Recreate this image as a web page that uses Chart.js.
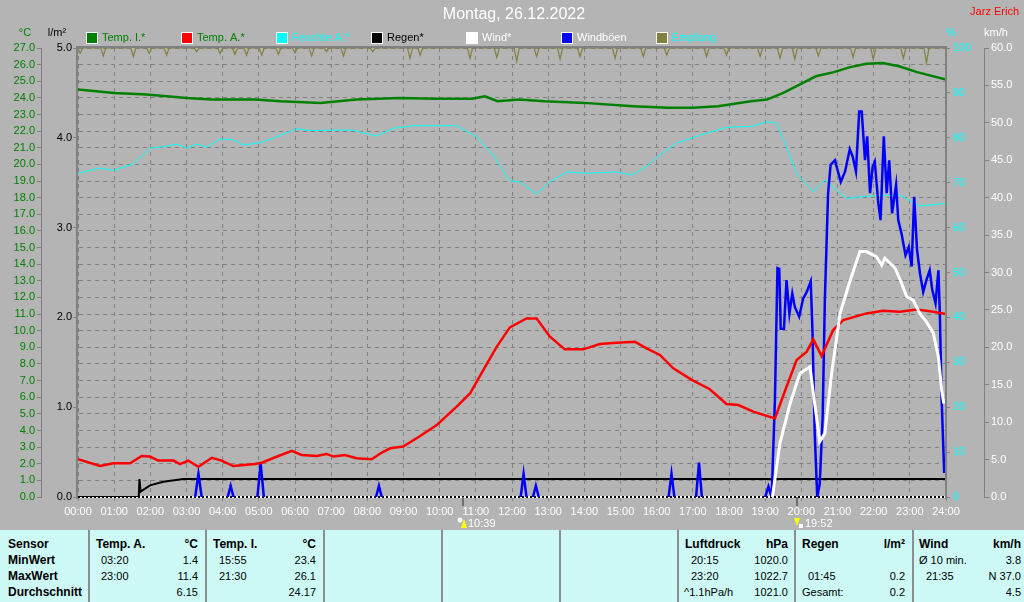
<!DOCTYPE html>
<html>
<head>
<meta charset="utf-8">
<script src="https://cdn.jsdelivr.net/npm/chart.js@4.4.0/dist/chart.umd.min.js"></script>
<style>
  body { margin: 0; background: #b4b4b4; width: 1024px; height: 602px; overflow: hidden; font-family: "Liberation Sans", Arial, sans-serif; }
  #wetter { position: absolute; left: 0; top: 0; }
  #stats { position: absolute; left: 0; top: 530px; width: 1024px; height: 72px; background: #cdf9f6; font-size: 11px; color: #000; }
  .col { position: absolute; top: 0; height: 72px; box-sizing: border-box; border-left: 2px solid #8e8e8e; padding-top: 6px; }
  .row { position: relative; height: 16px; line-height: 16px; white-space: nowrap; }
  .row span { position: absolute; }
  .b { font-weight: bold; font-size: 12px; }
</style>
</head>
<body>
<canvas id="wetter" width="1024" height="530"></canvas>
<div id="stats">
  <div class="col" style="left:0;width:88px;border-left:none">
    <div class="row"><span class="b" style="left:8px">Sensor</span></div>
    <div class="row"><span class="b" style="left:8px">MinWert</span></div>
    <div class="row"><span class="b" style="left:8px">MaxWert</span></div>
    <div class="row"><span class="b" style="left:8px">Durchschnitt</span></div>
  </div>
  <div class="col" style="left:88px;width:117px">
    <div class="row"><span class="b" style="left:6px">Temp. A.</span><span class="b" style="right:7px">°C</span></div>
    <div class="row"><span style="left:11px">03:20</span><span style="right:7px">1.4</span></div>
    <div class="row"><span style="left:11px">23:00</span><span style="right:7px">11.4</span></div>
    <div class="row"><span style="right:7px">6.15</span></div>
  </div>
  <div class="col" style="left:205px;width:118px">
    <div class="row"><span class="b" style="left:6px">Temp. I.</span><span class="b" style="right:7px">°C</span></div>
    <div class="row"><span style="left:12px">15:55</span><span style="right:7px">23.4</span></div>
    <div class="row"><span style="left:12px">21:30</span><span style="right:7px">26.1</span></div>
    <div class="row"><span style="right:7px">24.17</span></div>
  </div>
  <div class="col" style="left:323px;width:118px"></div>
  <div class="col" style="left:441px;width:118px"></div>
  <div class="col" style="left:559px;width:118px"></div>
  <div class="col" style="left:677px;width:117px">
    <div class="row"><span class="b" style="left:6px">Luftdruck</span><span class="b" style="right:6px">hPa</span></div>
    <div class="row"><span style="left:12px">20:15</span><span style="right:6px">1020.0</span></div>
    <div class="row"><span style="left:12px">23:20</span><span style="right:6px">1022.7</span></div>
    <div class="row"><span style="left:5px">^1.1hPa/h</span><span style="right:6px">1021.0</span></div>
  </div>
  <div class="col" style="left:794px;width:118px">
    <div class="row"><span class="b" style="left:6px">Regen</span><span class="b" style="right:7px">l/m²</span></div>
    <div class="row"></div>
    <div class="row"><span style="left:12px">01:45</span><span style="right:7px">0.2</span></div>
    <div class="row"><span style="left:6px">Gesamt:</span><span style="right:7px">0.2</span></div>
  </div>
  <div class="col" style="left:912px;width:112px">
    <div class="row"><span class="b" style="left:5px">Wind</span><span class="b" style="right:3px">km/h</span></div>
    <div class="row"><span style="left:5px">Ø 10 min.</span><span style="right:3px">3.8</span></div>
    <div class="row"><span style="left:12px">21:35</span><span style="right:3px">N 37.0</span></div>
    <div class="row"><span style="right:3px">4.5</span></div>
  </div>
</div>
<script>
// Werte (x = Stunde des Tages)
const TEMP_I_H = [0, 1, 1.9, 3, 3.7, 4.9, 5.6, 6.7, 7.7, 8.9, 9.9, 10.9, 11.25, 11.6, 12.2, 12.9, 14, 15.35, 16.3, 17, 17.7, 18.6, 19.05, 19.5, 19.95, 20.4, 20.9, 21.35, 21.8, 22.25, 22.7, 23.2, 24];
const TEMP_I = [24.5, 24.3, 24.2, 24.0, 23.9, 23.9, 23.8, 23.7, 23.9, 24.0, 23.95, 23.95, 24.1, 23.8, 23.9, 23.8, 23.7, 23.5, 23.4, 23.4, 23.5, 23.8, 23.9, 24.3, 24.8, 25.3, 25.55, 25.85, 26.05, 26.1, 25.9, 25.55, 25.1];

const TEMP_A_H = [0, 0.61, 0.98, 1.44, 1.76, 1.99, 2.22, 2.64, 2.82, 3.05, 3.33, 3.7, 3.97, 4.29, 4.89, 5.08, 5.49, 5.91, 6.18, 6.6, 6.87, 7.07, 7.38, 7.7, 8.12, 8.39, 8.63, 8.99, 9.46, 9.92, 10.47, 10.84, 11.21, 11.58, 11.94, 12.4, 12.68, 13.05, 13.46, 13.97, 14.43, 14.89, 15.4, 15.72, 16.09, 16.46, 16.97, 17.47, 17.93, 18.26, 18.67, 19.27, 19.59, 19.87, 20.15, 20.33, 20.56, 20.88, 21.16, 21.8, 22.26, 22.72, 23.19, 23.65, 24];
const TEMP_A = [2.27, 1.86, 2.03, 2.03, 2.47, 2.43, 2.19, 2.19, 1.98, 2.19, 1.82, 2.36, 2.19, 1.86, 1.98, 2.06, 2.42, 2.78, 2.53, 2.47, 2.59, 2.43, 2.53, 2.33, 2.27, 2.66, 2.93, 3.03, 3.67, 4.33, 5.43, 6.23, 7.64, 9.04, 10.2, 10.74, 10.74, 9.64, 8.88, 8.88, 9.2, 9.28, 9.34, 8.94, 8.54, 7.74, 7.04, 6.48, 5.59, 5.53, 5.13, 4.73, 6.63, 8.24, 8.74, 9.48, 8.48, 10.04, 10.64, 11.04, 11.2, 11.14, 11.28, 11.14, 11.0];

const HUM_H = [0, 0.61, 0.98, 1.53, 1.99, 2.36, 2.73, 3.0, 3.28, 3.56, 3.93, 4.29, 4.57, 5.03, 5.49, 6.05, 6.42, 7.06, 7.62, 7.89, 8.26, 8.72, 9.27, 10.47, 11.02, 11.48, 11.94, 12.22, 12.68, 13.05, 13.51, 14.06, 14.89, 15.31, 15.72, 16.09, 16.55, 17.2, 17.93, 18.67, 19.04, 19.32, 19.59, 19.87, 20.33, 20.65, 21.25, 21.8, 22.72, 23.27, 24];
const HUM = [72.1, 73.3, 72.7, 74.2, 77.7, 78.0, 78.6, 77.7, 78.6, 77.9, 79.7, 79.6, 78.4, 78.9, 80.2, 82.0, 81.6, 81.7, 81.7, 81.1, 80.4, 82.1, 82.7, 82.7, 80.2, 76.2, 70.4, 70.2, 67.5, 70.2, 72.4, 72.1, 72.4, 71.7, 73.6, 76.2, 78.8, 80.6, 82.3, 82.6, 83.6, 83.2, 78.0, 72.1, 68.0, 70.6, 66.5, 67.0, 67.3, 64.8, 65.4];

const RAIN_H = [0, 1.68, 1.7, 1.73, 1.99, 2.36, 2.91, 24];
const RAIN = [0, 0, 0.2, 0.06, 0.13, 0.17, 0.2, 0.2];

const WIND_H = [19.2, 19.41, 19.69, 19.96, 20.24, 20.33, 20.51, 20.65, 20.84, 21.07, 21.34, 21.62, 21.8, 22.08, 22.22, 22.31, 22.59, 22.77, 22.91, 23.09, 23.28, 23.46, 23.65, 23.79, 23.88, 23.94];
const WIND = [0, 7.2, 12.5, 16.5, 17.4, 13.9, 7.4, 8.5, 16.6, 24.5, 28.8, 32.8, 32.8, 32.1, 31.0, 31.9, 30.6, 28.6, 26.8, 26.3, 24.5, 23.4, 21.9, 18.7, 14.3, 12.5];

// null = Lücke zwischen einzelnen Böen
const GUST_H = [3.24, 3.33, 3.42, 3.5, 4.14, 4.22, 4.3, 4.4, 4.96, 5.05, 5.14, 5.2, 8.24, 8.32, 8.4, 8.5, 12.24, 12.32, 12.4, 12.5, 12.58, 12.66, 12.74, 12.8, 16.33, 16.41, 16.49, 16.6, 17.09, 17.17, 17.25, 17.4,
  19.0, 19.09, 19.18, 19.27, 19.34, 19.39, 19.43, 19.52, 19.59, 19.67, 19.75, 19.82, 19.94, 20.05, 20.15, 20.26, 20.31, 20.37, 20.44, 20.51, 20.59, 20.65, 20.74, 20.81, 20.93, 21.09, 21.21, 21.34, 21.42, 21.51, 21.6, 21.67, 21.76, 21.82, 21.9, 21.97, 22.03, 22.13, 22.19, 22.28, 22.36, 22.43, 22.51, 22.62, 22.68, 22.77, 22.88, 22.97, 23.05, 23.12, 23.2, 23.28, 23.37, 23.46, 23.55, 23.62, 23.71, 23.79, 23.83, 23.88, 23.95];
const GUST = [0, 3.1, 0, null, 0, 1.5, 0, null, 0, 4.5, 0, null, 0, 1.5, 0, null, 0, 3.1, 0, null, 0, 1.5, 0, null, 0, 3.1, 0, null, 0, 4.6, 0, null,
  0, 1.4, 0, 13.0, 30.6, 30.5, 22.5, 22.5, 29.0, 24.5, 27.2, 25.4, 24.1, 26.5, 27.4, 28.8, 21.9, 8.5, 0, 1.8, 10.7, 26.3, 40.6, 44.4, 45.0, 42.1, 43.5, 46.5, 45.5, 43.5, 51.5, 51.5, 45.0, 48.2, 40.6, 44.1, 44.8, 39.2, 37.0, 48.2, 40.6, 45.0, 37.9, 41.7, 37.0, 35.2, 32.3, 33.4, 30.8, 40.1, 33.0, 29.9, 27.4, 29.0, 30.3, 27.7, 25.9, 30.3, 24.5, 13.0, 3.2];

// Empfang: 100 %, nur kurze Einbrüche
const EMP_DIP_H = [0.06, 0.7, 1.53, 1.97, 2.45, 3.28, 3.93, 4.34, 4.66, 5.08, 5.54, 6.0, 6.46, 6.87, 7.34, 8.15, 9.18, 9.46, 10.84, 11.58, 12.13, 12.68, 13.33, 13.88, 14.85, 15.63, 16.28, 17.38, 17.93, 18.86, 19.41, 19.82, 20.47, 21.43, 21.99, 22.82, 23.46];
const EMP_DIP = [98.8, 98.2, 98.1, 98.8, 98.4, 99.2, 98.8, 98.6, 98.4, 98.4, 98.6, 98.9, 98.2, 99.2, 98.2, 99.2, 97.7, 98.4, 97.7, 97.9, 97.0, 98.1, 97.5, 98.1, 97.7, 98.1, 98.4, 98.1, 98.4, 98.1, 97.7, 97.5, 98.2, 97.9, 97.5, 97.7, 96.7];

const LEGEND_LABELS = ['Temp. I.*', 'Temp. A.*', 'Feuchte A.*', 'Regen*', 'Wind*', 'Windböen', 'Empfang'];
const LEGEND_BOX = ['#008000', '#ff0000', '#00ffff', '#000000', '#ffffff', '#0000ff', '#808040'];
const LEGEND_TEXT = ['#008000', '#008000', '#00ffff', '#000000', '#ffffff', '#ffffff', '#00ffff'];
const SUN_H = [10.65, 19.867];
const SUN_LABELS = ['10:39', '19:52'];

const FONT = "'Liberation Sans', Arial, sans-serif";
const GRID = '#808080';

const zip = (xs, ys) => xs.map((x, i) => ({ x: x, y: ys[i] }));

const empfangData = () => {
  const pts = [{ x: 0, y: 100 }];
  EMP_DIP_H.forEach((h, i) => {
    pts.push({ x: h - 0.07, y: 100 }, { x: h, y: EMP_DIP[i] }, { x: h + 0.07, y: 100 });
  });
  pts.push({ x: 24, y: 100 });
  return pts;
};

const deko = {
  id: 'deko',
  beforeDatasetsDraw(chart) {
    const { ctx, chartArea: a } = chart;
    // gepunktete Nulllinie
    ctx.save();
    ctx.lineWidth = 2;
    ctx.strokeStyle = '#ffffff';
    ctx.beginPath(); ctx.moveTo(a.left, a.bottom); ctx.lineTo(a.right, a.bottom); ctx.stroke();
    ctx.strokeStyle = '#000000';
    ctx.setLineDash([2, 2]);
    ctx.beginPath(); ctx.moveTo(a.left, a.bottom); ctx.lineTo(a.right, a.bottom); ctx.stroke();
    ctx.restore();
  },
  afterDatasetsDraw(chart) {
    const { ctx, chartArea: a } = chart;
    ctx.save();
    ctx.strokeStyle = '#808080';
    ctx.lineWidth = 2;
    ctx.beginPath();
    ctx.moveTo(a.left - 1, a.bottom + 2);
    ctx.lineTo(a.left - 1, a.top - 1);
    ctx.lineTo(a.right, a.top - 1);
    ctx.lineTo(a.right, a.bottom + 2);
    ctx.stroke();
    ctx.restore();
  },
  afterDraw(chart) {
    const { ctx } = chart;
    ctx.save();
    ctx.textBaseline = 'middle';
    ctx.font = '16px ' + FONT;
    ctx.fillStyle = '#ffffff';
    ctx.textAlign = 'center';
    ctx.fillText('Montag, 26.12.2022', 514, 15);
    ctx.font = '11px ' + FONT;
    ctx.textAlign = 'right';
    ctx.fillStyle = '#ff0000';
    ctx.fillText('Jarz Erich', 1019, 12);

    // Einheiten
    ctx.textAlign = 'center';
    ctx.fillStyle = '#008000'; ctx.fillText('°C', 25, 33);
    ctx.fillStyle = '#000000'; ctx.fillText('l/m²', 57, 33);
    ctx.fillStyle = '#00ffff'; ctx.fillText('%', 951, 33);
    ctx.fillStyle = '#ffffff'; ctx.fillText('km/h', 996, 33);

    // Legende
    ctx.textAlign = 'left';
    LEGEND_LABELS.forEach((label, i) => {
      const x = 87 + i * 95;
      ctx.fillStyle = LEGEND_BOX[i];
      ctx.fillRect(x, 33, 10, 10);
      ctx.strokeStyle = '#ffffff';
      ctx.lineWidth = 1;
      ctx.strokeRect(x - 0.5, 32.5, 11, 11);
      ctx.fillStyle = LEGEND_TEXT[i];
      ctx.fillText(label, x + 15, 38);
    });

    // Sonnenauf- und -untergang
    const xs = chart.scales.x;
    const yb = chart.chartArea.bottom;
    SUN_H.forEach((h, i) => {
      const px = Math.round(xs.getPixelForValue(h));
      ctx.strokeStyle = '#6e6e6e';
      ctx.lineWidth = 2;
      ctx.beginPath(); ctx.moveTo(px, yb); ctx.lineTo(px, yb + 9); ctx.stroke();
      ctx.fillStyle = '#ffff00';
      ctx.beginPath();
      if (i === 0) {
        ctx.fillStyle = '#ffffff';
        ctx.beginPath(); ctx.arc(px - 3, 520, 2.5, 0, Math.PI * 2); ctx.fill();
        ctx.fillStyle = '#ffff00';
        ctx.beginPath();
        ctx.moveTo(px - 2, 528); ctx.lineTo(px + 4, 528); ctx.lineTo(px + 1, 519);
        ctx.closePath(); ctx.fill();
        ctx.fillStyle = '#ffffff';
        ctx.fillText(SUN_LABELS[i], px + 5, 524);
      } else {
        ctx.moveTo(px - 3, 518); ctx.lineTo(px + 3, 518); ctx.lineTo(px, 526);
        ctx.closePath(); ctx.fill();
        ctx.fillStyle = '#ffffff';
        ctx.fillRect(px + 2, 524, 4, 4);
        ctx.fillText(SUN_LABELS[i], px + 8, 524);
      }
    });
    ctx.restore();
  }
};

Chart.defaults.font.family = FONT;
Chart.defaults.font.size = 11;

const line = (label, data, color, width, axis, order) => ({
  label: label, data: data, borderColor: color, backgroundColor: color,
  borderWidth: width, pointRadius: 0, tension: 0, yAxisID: axis, order: order, fill: false
});

new Chart(document.getElementById('wetter'), {
  type: 'line',
  data: {
    datasets: [
      line('Wind*', zip(WIND_H, WIND), '#ffffff', 3, 'yW', 0),
      line('Temp. A.*', zip(TEMP_A_H, TEMP_A), '#ff0000', 2.5, 'yT', 1),
      line('Windböen', zip(GUST_H, GUST), '#0000ff', 2.5, 'yW', 2),
      line('Regen*', zip(RAIN_H, RAIN), '#000000', 2, 'yR', 3),
      line('Temp. I.*', zip(TEMP_I_H, TEMP_I), '#008000', 2.5, 'yT', 4),
      line('Feuchte A.*', zip(HUM_H, HUM), '#00ffff', 1, 'yH', 5),
      line('Empfang', empfangData(), '#808040', 1.2, 'yH', 6)
    ]
  },
  options: {
    responsive: false,
    animation: false,
    layout: { padding: { top: 48, left: 0, right: 0, bottom: 0 } },
    plugins: { legend: { display: false }, tooltip: { enabled: false }, title: { display: false } },
    scales: {
      x: {
        type: 'linear', min: 0, max: 24,
        afterFit: (s) => { s.height = 33; },
        ticks: { stepSize: 1, autoSkip: false, maxRotation: 0, color: '#ffffff', padding: 4,
          callback: (v) => String(v).padStart(2, '0') + ':00' },
        grid: { color: GRID, tickColor: '#8a8a8a', tickLength: 4 },
        border: { display: false, dash: [4, 4] }
      },
      yT: {
        position: 'left', weight: 2, min: 0, max: 27,
        afterFit: (s) => { s.width = 41; },
        ticks: { stepSize: 1, autoSkip: false, color: '#008000', padding: 2, callback: (v) => v.toFixed(1) },
        grid: { color: GRID, tickColor: '#808080', tickLength: 4 },
        border: { display: true, color: '#808080', dash: [4, 4] }
      },
      yR: {
        position: 'left', weight: 1, min: 0, max: 5,
        afterFit: (s) => { s.width = 37; },
        ticks: { stepSize: 1, autoSkip: false, color: '#000000', padding: 1, callback: (v) => v.toFixed(1) },
        grid: { drawOnChartArea: false, tickColor: '#808080', tickLength: 5 },
        border: { display: false }
      },
      yH: {
        position: 'right', weight: 1, min: 0, max: 100,
        afterFit: (s) => { s.width = 38; },
        ticks: { stepSize: 10, autoSkip: false, color: '#00ffff', padding: 3 },
        grid: { drawOnChartArea: false, tickColor: '#808080', tickLength: 4 },
        border: { display: false }
      },
      yW: {
        position: 'right', weight: 2, min: 0, max: 60,
        afterFit: (s) => { s.width = 40; },
        ticks: { stepSize: 5, autoSkip: false, color: '#ffffff', padding: 2, callback: (v) => v.toFixed(1) },
        grid: { drawOnChartArea: false, tickColor: '#808080', tickLength: 5 },
        border: { display: true, color: '#808080' }
      }
    }
  },
  plugins: [deko]
});
</script>
</body>
</html>
